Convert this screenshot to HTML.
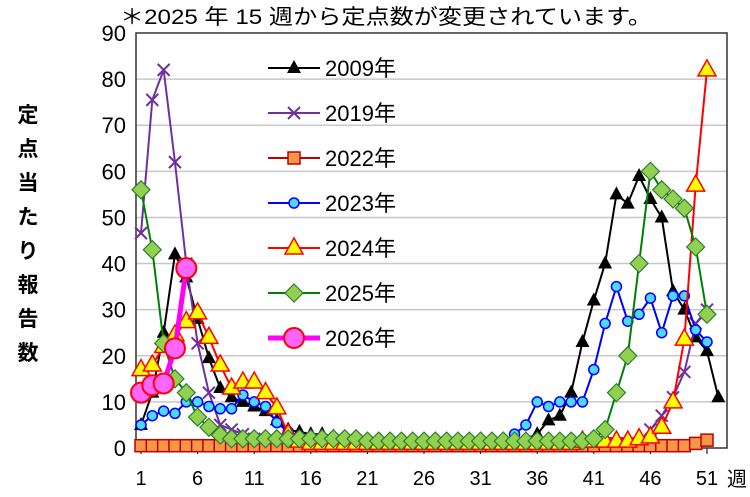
<!DOCTYPE html>
<html><head><meta charset="utf-8">
<style>
html,body{margin:0;padding:0;background:#fff;}
svg{display:block;font-family:"Liberation Sans","Noto Sans CJK JP",sans-serif;}
</style></head>
<body>
<svg id="chart" width="750" height="497" viewBox="0 0 750 497">
<text x="120" y="24" font-size="21" textLength="532" lengthAdjust="spacingAndGlyphs">＊2025 年 15 週から定点数が変更されています。</text>
<text x="727" y="486" font-size="20">週</text>
<g font-size="21" font-weight="bold">
<text x="28" y="122" text-anchor="middle">定</text>
<text x="28" y="156" text-anchor="middle">点</text>
<text x="28" y="190" text-anchor="middle">当</text>
<text x="28" y="224" text-anchor="middle">た</text>
<text x="28" y="258" text-anchor="middle">り</text>
<text x="28" y="292" text-anchor="middle">報</text>
<text x="28" y="326" text-anchor="middle">告</text>
<text x="28" y="360" text-anchor="middle">数</text>
</g>
</svg>
<script>
const yTicks=[0,10,20,30,40,50,60,70,80,90];
const xTicks=[1,6,11,16,21,26,31,36,41,46,51];
const seriesNames=["2009年","2019年","2022年","2023年","2024年","2025年","2026年"];
const s2009=[5,12,25,42,37,28,19.5,13,11,10,9,8,6,4,3.5,3,3,2.5,2,2,1,1,1,1,1,1,1,1,1,1,1,1,1,1.5,2,3,6,7,12,23,32,40,55,53,59,54,50,34,30,24,21,11];
const s2019=[46.6,75.5,82,62,40,22.7,12,5,4,3,2,1.5,1,1,1,1,1,1,1,1,1,1,1,1,1,1,1,1,1,1,1,1,1,1,1,1,1,1,1,1,1,1,1,1,1,4,7,11,16.5,27,30];
const s2022=[0.5,0.5,0.5,0.5,0.5,0.5,0.5,0.5,0.5,0.5,0.5,0.5,0.5,0.5,0.5,0.5,0.5,0.5,0.5,0.5,0.5,0.5,0.5,0.5,0.5,0.5,0.5,0.5,0.5,0.5,0.5,0.5,0.5,0.5,0.5,0.5,0.5,0.5,0.5,0.5,0.5,0.5,0.5,0.5,0.5,0.5,0.5,0.5,0.5,1.0,1.7];
const s2023=[5,7,8,7.5,10,10,9,8.5,8.5,11.5,10,9,5.5,3.5,2.5,2,1.5,1.5,1.5,1.5,1,1,1,1,1,1,1,1,1,1,1,1,1,3,5,10,9,10,10,10,17,27,35,27.5,29,32.5,25,33,33,25.6,23];
const s2024=[17,18,22,24.5,27.4,29.3,24,18,13,14.3,14.3,12,8.7,3,1.5,1,1,1,1,1,1,1,1,1,1,1,1,1,1,1,1,1,1,1,1,1,1,1,1,1.5,1.5,1.5,1.5,1.5,2,2.4,4.5,10,23.6,57,82];
const s2025=[56,43,22.7,15,12,6.7,4.5,2.8,2,2,2,2,2,2,2,2,2,2,2,2,1.5,1.5,1.5,1.5,1.5,1.5,1.5,1.5,1.5,1.5,1.5,1.5,1.5,1.5,1.5,1.5,1.5,1.5,1.5,1.5,2,4,12,20,40,60,56,54,52,43.6,29];
const s2026=[12,13.6,14,21.6,39];

const svg=document.getElementById('chart');
const NS='http://www.w3.org/2000/svg';
const L=136,R=727,T=33,B=448;
function xs(w){return 141+(w-1)*11.32;}
function ys(v){return B-(v/90)*(B-T);}
function mk(tag,attrs,parent){const e=document.createElementNS(NS,tag);for(const k in attrs)e.setAttribute(k,attrs[k]);(parent||svg).appendChild(e);return e;}

const grid=mk('g',{});


yTicks.forEach(v=>{
  if(v>0&&v<90){const gl=mk('line',{x1:L,x2:R,y1:ys(v),y2:ys(v),stroke:'#c8c8c8','stroke-width':1.5},grid);
  
  }
  const t=mk('text',{x:126,y:ys(v)+8,'font-size':22,'text-anchor':'end'});
  t.textContent=v;
  
  
});
xTicks.forEach(w=>{
  const t=mk('text',{x:xs(w),y:485,'font-size':20,'text-anchor':'middle'});
  t.textContent=w;
  
  
  mk('line',{x1:xs(w),x2:xs(w),y1:B,y2:B+6,stroke:'#000'});
});
const frame=mk('rect',{x:L,y:T,width:R-L,height:B-T,fill:'none',stroke:'#333','stroke-width':1.5});



function marker(type,x,y,g){
  if(type==='tri') return mk('polygon',{points:`${x},${y-8} ${x-7},${y+5} ${x+7},${y+5}`,fill:'#000'},g);
  if(type==='x'){const p=mk('path',{d:`M${x-6},${y-6}L${x+6},${y+6}M${x-6},${y+6}L${x+6},${y-6}`,stroke:'#7030a0','stroke-width':2},g);return p;}
  if(type==='sq') return mk('rect',{x:x-6,y:y-6,width:12,height:12,fill:'#f79646',stroke:'#c00000','stroke-width':1.5},g);
  if(type==='circ') return mk('circle',{cx:x,cy:y,r:5,fill:'#4fd8ff',stroke:'#0000ff','stroke-width':1.5},g);
  if(type==='ytri') return mk('polygon',{points:`${x},${y-10} ${x-9},${y+6} ${x+9},${y+6}`,fill:'#ffff00',stroke:'#ff0000','stroke-width':1.5},g);
  if(type==='dia') return mk('polygon',{points:`${x},${y-9} ${x+9},${y} ${x},${y+9} ${x-9},${y}`,fill:'#92d050',stroke:'#2e7d32','stroke-width':1.2},g);
  if(type==='big') return mk('circle',{cx:x,cy:y,r:10,fill:'#ff66ff',stroke:'#ff0000','stroke-width':2},g);
}
const styles=[
 {data:s2009,color:'#000',w:2,m:'tri'},
 {data:s2019,color:'#7030a0',w:2,m:'x'},
 {data:s2022,color:'#c00000',w:2,m:'sq'},
 {data:s2023,color:'#0000ff',w:2,m:'circ'},
 {data:s2024,color:'#ff0000',w:2,m:'ytri'},
 {data:s2025,color:'#008000',w:2,m:'dia'},
 {data:s2026,color:'#ff00ff',w:5,m:'big'}
];
styles.forEach((s,i)=>{
  const g=mk('g',{});
  
  
  const pts=s.data.map((v,k)=>xs(k+1)+','+ys(v)).join(' ');
  mk('polyline',{points:pts,fill:'none',stroke:s.color,'stroke-width':s.w},g);
  s.data.forEach((v,k)=>{
    const m=marker(s.m,xs(k+1),ys(v),g);
    
    
  });
  const ly=68+i*45;
  const lg=mk('g',{});
  
  
  mk('line',{x1:268,x2:320,y1:ly,y2:ly,stroke:s.color,'stroke-width':s.w},lg);
  marker(s.m,294,ly,lg);
  const t=mk('text',{x:325,y:ly+8,'font-size':22},lg);
  t.textContent=seriesNames[i];
});
</script>
</body></html>
